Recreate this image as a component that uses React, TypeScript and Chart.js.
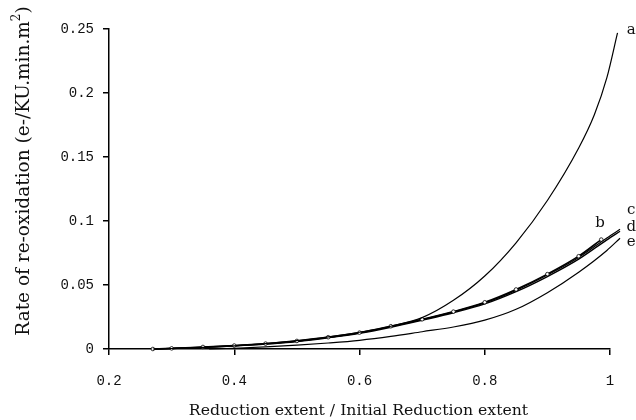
import { useEffect, useRef } from "react";
import { Chart, registerables } from "chart.js";

Chart.register(...registerables);

// ---- data ----
const X_TICKS = [0.2, 0.4, 0.6, 0.8, 1];
const Y_TICKS = [0, 0.05, 0.1, 0.15, 0.2, 0.25];
const X_TICK_LABELS = ["0.2", "0.4", "0.6", "0.8", "1"];
const Y_TICK_LABELS = ["0", "0.05", "0.1", "0.15", "0.2", "0.25"];

const xA = [0.27, 0.3, 0.35, 0.4, 0.45, 0.5, 0.55, 0.6, 0.65, 0.7, 0.75, 0.8, 0.85, 0.9, 0.95, 0.975, 0.995, 1.012];
const aVals = [0, 0.0004, 0.0012, 0.0025, 0.0042, 0.0065, 0.0094, 0.0131, 0.0178, 0.0245, 0.038, 0.057, 0.083, 0.116, 0.157, 0.183, 0.212, 0.247];

const xB = [0.27, 0.3, 0.35, 0.4, 0.45, 0.5, 0.55, 0.6, 0.65, 0.7, 0.75, 0.8, 0.85, 0.9, 0.95, 0.986];
const bVals = [0, 0.0005, 0.0016, 0.0027, 0.0042, 0.0063, 0.0092, 0.0128, 0.0178, 0.0232, 0.0292, 0.0365, 0.0465, 0.0585, 0.0725, 0.0855];

const xCD = [0.27, 0.3, 0.35, 0.4, 0.45, 0.5, 0.55, 0.6, 0.65, 0.7, 0.75, 0.8, 0.85, 0.9, 0.95, 0.995, 1.016];
const cVals = [0, 0.0005, 0.0015, 0.0026, 0.004, 0.006, 0.009, 0.0125, 0.0175, 0.023, 0.029, 0.036, 0.0458, 0.0578, 0.0715, 0.0868, 0.0935];
const dVals = [0, 0.0004, 0.0013, 0.0024, 0.0038, 0.0058, 0.0087, 0.0122, 0.017, 0.0225, 0.0283, 0.0352, 0.0448, 0.0566, 0.0702, 0.0853, 0.092];

const xE = [0.36, 0.4, 0.45, 0.5, 0.55, 0.6, 0.65, 0.7, 0.75, 0.8, 0.85, 0.9, 0.95, 0.995, 1.016];
const eVals = [0, 0.0006, 0.0016, 0.003, 0.0047, 0.0068, 0.0098, 0.0135, 0.0172, 0.0225, 0.031, 0.044, 0.06, 0.077, 0.0865];

const CURVE_LABELS = ["a", "b", "c", "d", "e"];
const LABEL_X = [1.034, 0.984, 1.034, 1.034, 1.034];
const LABEL_Y = [0.249, 0.098, 0.1086, 0.0953, 0.0836];

const Y_TITLE_MAIN = "Rate of re-oxidation (e-/KU.min.m";
const Y_TITLE_SUP = "2";
const Y_TITLE_END = ")";
const X_TITLE = "Reduction extent / Initial Reduction extent";

const pts = (xs: number[], ys: number[]) => xs.map((x, i) => ({ x, y: ys[i] }));

const textPlugin = {
  id: "textPlugin",
  afterDraw(chart: any) {
    const { ctx, scales, chartArea } = chart;
    const xs = scales.x;
    const ys = scales.y;
    ctx.save();
    ctx.fillStyle = "#111";
    // curve labels
    ctx.font = '15px "DejaVu Serif"';
    ctx.textAlign = "center";
    ctx.textBaseline = "middle";
    CURVE_LABELS.forEach((t, i) => {
      ctx.fillText(t, xs.getPixelForValue(LABEL_X[i]), ys.getPixelForValue(LABEL_Y[i]));
    });
    // x title
    ctx.font = '15.7px "DejaVu Serif"';
    ctx.textAlign = "center";
    ctx.textBaseline = "alphabetic";
    ctx.fillText(X_TITLE, (chartArea.left + chartArea.right) / 2 - 1, 415);
    // y title
    ctx.translate(23, 171);
    ctx.rotate(-Math.PI / 2);
    ctx.textAlign = "left";
    const mainFont = '18.5px "DejaVu Serif"';
    const supFont = '12px "DejaVu Serif"';
    ctx.font = mainFont;
    const w1 = ctx.measureText(Y_TITLE_MAIN).width;
    const w3 = ctx.measureText(Y_TITLE_END).width;
    ctx.font = supFont;
    const w2 = ctx.measureText(Y_TITLE_SUP).width;
    const total = w1 + w2 + w3;
    let x0 = -total / 2;
    ctx.font = mainFont;
    ctx.fillText(Y_TITLE_MAIN, x0, 6);
    x0 += w1;
    ctx.font = supFont;
    ctx.fillText(Y_TITLE_SUP, x0, -3);
    x0 += w2;
    ctx.font = mainFont;
    ctx.fillText(Y_TITLE_END, x0, 6);
    ctx.restore();
  },
};

export default function App() {
  const ref = useRef<HTMLCanvasElement | null>(null);
  useEffect(() => {
    if (!ref.current) return;
    const line = (data: any[], extra: any = {}) => ({
      data,
      borderColor: "#000",
      borderWidth: 1.2,
      pointRadius: 0,
      cubicInterpolationMode: "monotone",
      clip: false,
      fill: false,
      ...extra,
    });
    const chart = new Chart(ref.current, {
      type: "line",
      data: {
        datasets: [
          line(pts(xA, aVals)),
          line(pts(xB, bVals), {
            borderWidth: 1.6,
            pointRadius: 1.8,
            pointBackgroundColor: "#fff",
            pointBorderColor: "#000",
            pointBorderWidth: 0.8,
          }),
          line(pts(xCD, cVals)),
          line(pts(xCD, dVals), { borderWidth: 1.4 }),
          line(pts(xE, eVals)),
        ],
      },
      options: {
        responsive: false,
        animation: false,
        events: [],
        layout: { padding: { top: 29, right: 26, left: 0, bottom: 0 } },
        plugins: { legend: { display: false }, tooltip: { enabled: false } },
        scales: {
          x: {
            type: "linear",
            min: 0.2,
            max: 1,
            afterFit: (s: any) => {
              s.height = 71;
            },
            afterBuildTicks: (s: any) => {
              s.ticks = X_TICKS.map((v) => ({ value: v }));
            },
            ticks: {
              callback: (v: any) => X_TICK_LABELS[X_TICKS.indexOf(Number(v))] ?? "",
              font: { family: '"Liberation Mono"', size: 14 },
              color: "#111",
              padding: 18,
              maxRotation: 0,
            },
            grid: { drawOnChartArea: false, drawTicks: true, tickLength: 6, color: "#000", lineWidth: 1.5 },
            border: { display: true, color: "#000", width: 1.5 },
          },
          y: {
            type: "linear",
            min: 0,
            max: 0.25,
            afterFit: (s: any) => {
              s.width = 109;
            },
            afterBuildTicks: (s: any) => {
              s.ticks = Y_TICKS.map((v) => ({ value: v }));
            },
            ticks: {
              callback: (v: any) => Y_TICK_LABELS[Y_TICKS.indexOf(Number(v))] ?? "",
              font: { family: '"Liberation Mono"', size: 14 },
              color: "#111",
              padding: 9,
            },
            grid: { drawOnChartArea: false, drawTicks: true, tickLength: 6, color: "#000", lineWidth: 1.5 },
            border: { display: true, color: "#000", width: 1.5 },
          },
        },
      },
      plugins: [textPlugin],
    } as any);
    return () => chart.destroy();
  }, []);
  return (
    <div style={{ position: "fixed", left: 0, top: 0, width: 636, height: 420, background: "#fff" }}>
      <canvas ref={ref} width={636} height={420} />
    </div>
  );
}
